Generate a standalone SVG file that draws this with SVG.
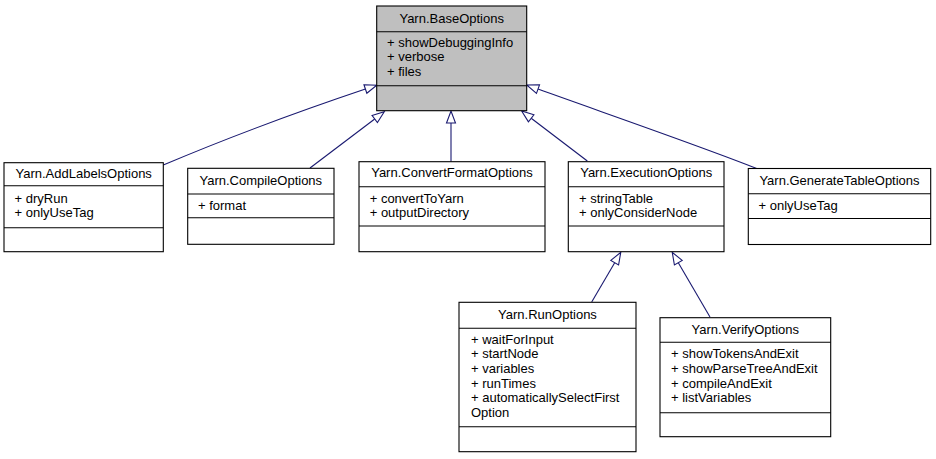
<svg xmlns="http://www.w3.org/2000/svg" width="936" height="459" viewBox="0 0 936 459">
<style>
  .box { fill: #ffffff; stroke: #000000; stroke-width: 1.1; }
  .base { fill: #bfbfbf; stroke: #000000; stroke-width: 1.1; }
  .sep { stroke: #000000; stroke-width: 1.1; }
  text { font-family: "Liberation Sans", Arial, Helvetica, sans-serif; font-size: 13px; fill: #000000; }
  .t { text-anchor: middle; }
  .edge { fill: none; stroke: #191970; stroke-width: 1.1; marker-end: url(#arr); }
</style>
<defs>
  <marker id="arr" markerUnits="userSpaceOnUse" markerWidth="14" markerHeight="12" viewBox="0 0 14 12" refX="1" refY="6" orient="auto" overflow="visible">
    <path d="M1,1.5 L13,6 L1,10.5 Z" fill="#ffffff" stroke="#191970" stroke-width="1.1"/>
  </marker>
</defs>
<rect width="936" height="459" fill="#ffffff"/>

<g id="connectors">
  <path class="edge" d="M163.3,165 C220,141 300,111 365.4,89"/>
  <path class="edge" d="M310,168 L374.7,119"/>
  <path class="edge" d="M451,161.7 L451,123"/>
  <path class="edge" d="M587.3,161 L531.2,118.3"/>
  <path class="edge" d="M756.7,168.5 C700,146 610,115 538,89.1"/>
  <path class="edge" d="M591.7,302 L614.7,262.7"/>
  <path class="edge" d="M710,317 L678.3,262.7"/>
</g>

<g id="BaseOptions">
  <rect class="base" x="376.7" y="6" width="150" height="104.7"/>
  <line class="sep" x1="376.7" y1="31.7" x2="526.7" y2="31.7"/>
  <line class="sep" x1="376.7" y1="85.7" x2="526.7" y2="85.7"/>
  <text class="t" x="451.7" y="22.5">Yarn.BaseOptions</text>
  <text x="387" y="46.7">+ showDebuggingInfo</text>
  <text x="387" y="61.2">+ verbose</text>
  <text x="387" y="75.8">+ files</text>
</g>

<g id="AddLabelsOptions">
  <rect class="box" x="4" y="162.7" width="159.3" height="89"/>
  <line class="sep" x1="4" y1="185.7" x2="163.3" y2="185.7"/>
  <line class="sep" x1="4" y1="227.7" x2="163.3" y2="227.7"/>
  <text class="t" x="83.7" y="178">Yarn.AddLabelsOptions</text>
  <text x="14.5" y="202.7">+ dryRun</text>
  <text x="14.5" y="217">+ onlyUseTag</text>
</g>

<g id="CompileOptions">
  <rect class="box" x="187.7" y="168.3" width="146.3" height="76"/>
  <line class="sep" x1="187.7" y1="194" x2="334" y2="194"/>
  <line class="sep" x1="187.7" y1="217.7" x2="334" y2="217.7"/>
  <text class="t" x="260.8" y="185">Yarn.CompileOptions</text>
  <text x="198" y="210">+ format</text>
</g>

<g id="ConvertFormatOptions">
  <rect class="box" x="359" y="161.7" width="186" height="90"/>
  <line class="sep" x1="359" y1="186.7" x2="545" y2="186.7"/>
  <line class="sep" x1="359" y1="226" x2="545" y2="226"/>
  <text class="t" x="452" y="177">Yarn.ConvertFormatOptions</text>
  <text x="369.7" y="202.7">+ convertToYarn</text>
  <text x="369.7" y="216.5">+ outputDirectory</text>
</g>

<g id="ExecutionOptions">
  <rect class="box" x="568.3" y="161.7" width="155.7" height="90"/>
  <line class="sep" x1="568.3" y1="186.7" x2="724" y2="186.7"/>
  <line class="sep" x1="568.3" y1="226" x2="724" y2="226"/>
  <text class="t" x="646.2" y="177">Yarn.ExecutionOptions</text>
  <text x="579" y="202.7">+ stringTable</text>
  <text x="579" y="216.5">+ onlyConsiderNode</text>
</g>

<g id="GenerateTableOptions">
  <rect class="box" x="748.3" y="168.5" width="182.4" height="76"/>
  <line class="sep" x1="748.3" y1="193.7" x2="930.7" y2="193.7"/>
  <line class="sep" x1="748.3" y1="218.5" x2="930.7" y2="218.5"/>
  <text class="t" x="839.5" y="185">Yarn.GenerateTableOptions</text>
  <text x="758.5" y="210">+ onlyUseTag</text>
</g>

<g id="RunOptions">
  <rect class="box" x="459" y="302.3" width="177" height="149.4"/>
  <line class="sep" x1="459" y1="328.3" x2="636" y2="328.3"/>
  <line class="sep" x1="459" y1="426.7" x2="636" y2="426.7"/>
  <text class="t" x="547.5" y="319">Yarn.RunOptions</text>
  <text x="471" y="343.5">+ waitForInput</text>
  <text x="471" y="358.2">+ startNode</text>
  <text x="471" y="372.8">+ variables</text>
  <text x="471" y="387.5">+ runTimes</text>
  <text x="471" y="402.2">+ automaticallySelectFirst</text>
  <text x="471" y="416.8">Option</text>
</g>

<g id="VerifyOptions">
  <rect class="box" x="660" y="317.7" width="170.7" height="119"/>
  <line class="sep" x1="660" y1="342.3" x2="830.7" y2="342.3"/>
  <line class="sep" x1="660" y1="412.7" x2="830.7" y2="412.7"/>
  <text class="t" x="745.3" y="333.5">Yarn.VerifyOptions</text>
  <text x="671" y="358.3">+ showTokensAndExit</text>
  <text x="671" y="372.9">+ showParseTreeAndExit</text>
  <text x="671" y="387.5">+ compileAndExit</text>
  <text x="671" y="402.2">+ listVariables</text>
</g>
</svg>
